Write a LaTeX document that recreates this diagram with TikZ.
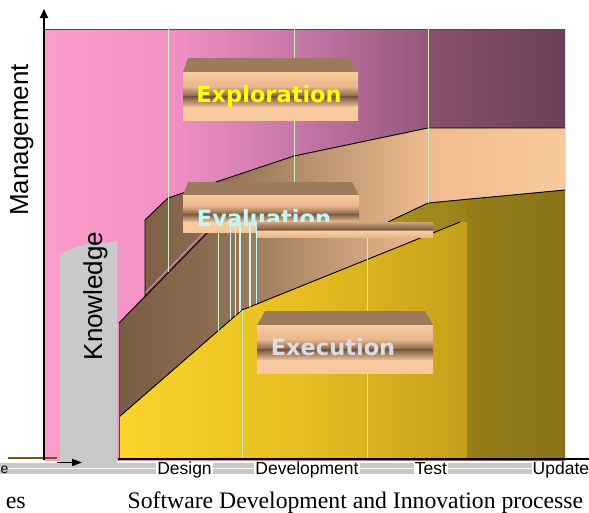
\documentclass[tikz,border=0pt]{standalone}
\usepackage{fontspec}
\setmainfont{Liberation Serif}
\setsansfont{Liberation Sans}
\newfontfamily\boxfont{DejaVu Sans}
\usetikzlibrary{arrows.meta}
\definecolor{pkA}{HTML}{FA9DCB}
\definecolor{pkB}{HTML}{F290C4}
\definecolor{pkC}{HTML}{C877A8}
\definecolor{pkD}{HTML}{94587A}
\definecolor{pkE}{HTML}{895070}
\definecolor{pkF}{HTML}{6C4059}
\definecolor{evA}{HTML}{7A5C44}
\definecolor{evB}{HTML}{8E6E52}
\definecolor{evC}{HTML}{B48E6A}
\definecolor{evD}{HTML}{EFBC8F}
\definecolor{evE}{HTML}{F8CA9B}
\definecolor{yA}{HTML}{F9D42A}
\definecolor{yB}{HTML}{E6BE22}
\definecolor{yC}{HTML}{C4A01A}
\definecolor{yoA}{HTML}{A69020}
\definecolor{yoB}{HTML}{9A8219}
\definecolor{yoC}{HTML}{957E18}
\definecolor{yoD}{HTML}{88731A}
\definecolor{paleg}{HTML}{CDEFC0}
\definecolor{tface}{HTML}{9C7B5C}
\definecolor{fpeach}{HTML}{F8CCA0}
\definecolor{fpeachb}{HTML}{E8B68A}
\definecolor{fdark}{HTML}{7C5D44}
\definecolor{fpeachc}{HTML}{F6C89C}
\definecolor{explc}{HTML}{FFFF00}
\definecolor{evalc}{HTML}{C4F7F7}
\definecolor{execc}{HTML}{DCDCE6}
\definecolor{knowg}{HTML}{C9C9C9}
\definecolor{bandg}{HTML}{C8C8C8}
\definecolor{olivedk}{HTML}{6E5A10}
\definecolor{specks}{HTML}{8870D0}
\newcommand{\myfront}[4]{%
\pgfmathsetmacro\fa{#2+0.30*(#4-#2)}%
\pgfmathsetmacro\fb{#2+0.52*(#4-#2)}%
\pgfmathsetmacro\fc{#2+0.74*(#4-#2)}%
\fill[top color=fpeach,bottom color=fpeachb] (#1,#2) rectangle (#3,\fa+0.4);
\fill[top color=fpeachb,bottom color=fdark] (#1,\fa) rectangle (#3,\fb+0.4);
\fill[top color=fdark,bottom color=fpeach] (#1,\fb) rectangle (#3,\fc+0.4);
\fill[top color=fpeach,bottom color=fpeachc] (#1,\fc) rectangle (#3,#4);
}
\begin{document}
\begin{tikzpicture}[x=1pt,y=-1pt,
  edge/.style={draw=black,line width=0.9pt},
  paleline/.style={draw=paleg,line width=0.8pt},
  axisline/.style={line width=2pt,draw=black},
  tickl/.style={font=\sffamily\fontsize{17.5}{17.5}\selectfont,fill=white,inner sep=1pt,text height=12.5pt,text depth=3.5pt,anchor=base},
  boxtext/.style={font=\boxfont\bfseries\fontsize{22.5}{22.5}\selectfont,anchor=base,inner sep=0pt},
  stripe/.style={draw=evalc,line width=1.8pt}]
\useasboundingbox (0,0) rectangle (589,512);
\fill[white] (0,0) rectangle (589,512);
% exploration background
\begin{scope}
\clip (44,29) rectangle (565,460);
\fill[left color=pkA,right color=pkB] (44,29) rectangle (168.5,460);
\fill[left color=pkB,right color=pkC] (168,29) rectangle (294.5,460);
\fill[left color=pkC,right color=pkD] (294,29) rectangle (428.5,460);
\fill[left color=pkE,right color=pkF] (428,29) rectangle (565,460);
\end{scope}
\draw[gray!60!black,line width=0.8pt] (44,29) -- (565,29);
% evaluation region
\begin{scope}
\clip (119,323) -- (145,296.5) -- (145,220) -- (168,198) -- (294,156) -- (428,128) -- (565,128) -- (565,460) -- (119,460) -- cycle;
\fill[left color=evA,right color=evB] (119,120) rectangle (218.5,460);
\fill[left color=evB,right color=evC] (218,120) rectangle (300.5,460);
\fill[left color=evC,right color=evD] (300,120) rectangle (430.5,460);
\fill[left color=evD,right color=evE] (430,120) rectangle (565,460);
\end{scope}
% execution regions
\begin{scope}
\clip (388,222) -- (428,203) -- (565,190) -- (565,460) -- (467,460) -- (467,237) -- (433,237) -- (433,222) -- cycle;
\fill[left color=yoA,right color=yoB] (388,190) rectangle (467.5,460);
\fill[left color=yoC,right color=yoD] (467,190) rectangle (565,460);
\end{scope}
\begin{scope}
\clip (119,417) -- (242,310) -- (460,222) -- (467,222) -- (467,460) -- (119,460) -- cycle;
\fill[left color=yA,right color=yB] (119,200) rectangle (300.5,460);
\fill[left color=yB,right color=yC] (300,200) rectangle (467,460);
\end{scope}
% boundaries
\draw[draw=pkB,line width=0.8pt] (118,321) -- (216,220);
\draw[edge] (119,323) -- (218,222);
\draw[edge] (145,296.5) -- (145,220) -- (168,198) -- (294,156) -- (428,128) -- (565,128);
\draw[edge] (119,417) -- (242,310) -- (460,222);
\draw[edge] (388,222) -- (428,203) -- (565,190);
\draw[draw=black!70,line width=0.6pt] (119,323) -- (119,459);
% pale phase lines
\draw[paleline] (168,26) -- (168,272);
\draw[paleline] (294,26) -- (294,222);
\draw[paleline] (428,26) -- (428,203);
\draw[paleline] (565,29) -- (565,459);
\draw[paleline] (218,222) -- (218,331);
\draw[paleline] (242,310) -- (242,458);
\draw[paleline] (367,237) -- (367,458);
% knowledge strip
\fill[knowg] (60,466) -- (60,254) -- (72,249) -- (86,244) -- (117,242) -- (117,466) -- cycle;
\node[font=\sffamily\fontsize{26}{26}\selectfont,rotate=90,anchor=base,inner sep=0pt] (knowledge) at (102,296) {Knowledge};
\node[font=\sffamily\fontsize{26}{26}\selectfont,rotate=90,anchor=base,inner sep=0pt] (management) at (28,140) {Management};
% exploration box
\fill[tface] (183,72) -- (188,58) -- (350,58) -- (358,72) -- cycle;
\myfront{183}{72}{358}{120}
\node[boxtext,text=explc] (exploration) at (269,102) {Exploration};
% evaluation box
\fill[tface] (183,195) -- (188,182) -- (352,182) -- (359,195) -- cycle;
\myfront{183}{195}{359}{232}
\node[boxtext,text=evalc] (evaluation) at (264,226) {Evaluation};
\begin{scope}
\clip (220,215) -- (270,215) -- (270,298) -- (242,310) -- (220,329) -- cycle;
\draw[stripe] (230.5,222) -- (230.5,330);
\draw[stripe] (235.5,222) -- (235.5,330);
\draw[stripe] (240,222) -- (240,330);
\draw[stripe] (250,222) -- (250,330);
\draw[stripe] (256.5,222) -- (256.5,330);
\end{scope}
% thin bar
\fill[top color=fpeachb!80!fdark,bottom color=fdark] (257,222) rectangle (433,229.5);
\fill[top color=fdark,bottom color=fpeach] (257,229) rectangle (433,232);
\fill[top color=fpeach,bottom color=fpeachb] (257,231.8) rectangle (433,237);
\draw[specks,line width=1.1pt,dash pattern=on 2pt off 2.6pt] (263,225.5) -- (425,225.5);
% execution box
\fill[tface] (257,325) -- (265,311) -- (425,311) -- (433,325) -- cycle;
\myfront{257}{325}{433}{373}
\node[boxtext,text=execc] (execution) at (333,355) {Execution};
% bottom band and labels
\fill[bandg] (0,463) rectangle (589,474);
\draw[white,line width=1.5pt] (0,468.5) -- (589,468.5);
\node[tickl] (design) at (184.5,474) {Design};
\node[tickl] (development) at (307,474) {Development};
\node[tickl] (test) at (431,474) {Test};
\node[tickl,anchor=base west,inner sep=0.5pt] (update) at (532,474) {Update};
\node[font=\sffamily\fontsize{14}{14}\selectfont,anchor=base west,inner sep=0pt] (timecut) at (0.5,473) {e};
% axes
\coordinate (xa) at (118,459);
\coordinate (xb) at (589,459);
\coordinate (ya) at (44,460);
\coordinate (yb) at (44,9);
\coordinate (oa) at (8,458);
\coordinate (ob) at (57,458);
\coordinate (aa) at (57,462.5);
\coordinate (ab) at (82,462.5);
\draw[axisline] (xa) -- (xb);
\draw[line width=1.5pt,draw=olivedk] (oa) -- (ob);
\draw[line width=1.5pt,-{Triangle[length=10pt,width=7pt]}] (aa) -- (ab);
\draw[axisline,-{Triangle[length=9pt,width=8pt]}] (ya) -- (yb);
% caption
\node[font=\rmfamily\fontsize{23.7}{23.7}\selectfont,anchor=base west,inner sep=0pt] (caption) at (127.5,508) {Software Development and Innovation processe};
\node[font=\rmfamily\fontsize{24}{24}\selectfont,anchor=base east,inner sep=0pt] (capleft) at (26,508) {es};
\end{tikzpicture}
\end{document}
